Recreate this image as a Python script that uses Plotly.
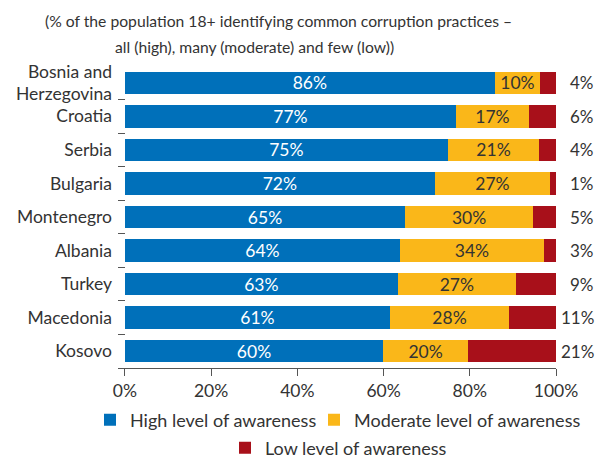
import plotly.graph_objects as go

countries = ["Bosnia and<br>Herzegovina", "Croatia", "Serbia", "Bulgaria", "Montenegro",
             "Albania", "Turkey", "Macedonia", "Kosovo"]
# bar lengths (unrounded shares, %)
high = [85.8, 76.8, 74.9, 71.9, 65.0, 63.8, 63.3, 61.5, 59.9]
moderate = [10.5, 16.9, 21.2, 26.7, 29.7, 33.4, 27.4, 27.6, 19.7]
low = [3.7, 6.3, 3.9, 1.4, 5.3, 2.8, 9.3, 10.9, 20.4]
# value labels as printed on the chart
high_labels = ["86%", "77%", "75%", "72%", "65%", "64%", "63%", "61%", "60%"]
moderate_labels = ["10%", "17%", "21%", "27%", "30%", "34%", "27%", "28%", "20%"]
low_labels = ["4%", "6%", "4%", "1%", "5%", "3%", "9%", "11%", "21%"]
tick_vals = [0, 20, 40, 60, 80, 100]
tick_text = ["0%", "20%", "40%", "60%", "80%", "100%"]
title_lines = ["(% of the population 18+ identifying common corruption practices –",
               "all (high), many (moderate) and few (low))"]

FONT = "Lato"
TXT = "#333333"
BLUE = "#0070BA"
YEL = "#FAB719"
RED = "#A8101A"

W, H = 604, 459
OFF = 8  # page offset of the figure inside the browser window
# target plot area in window pixels: x 118..556, y 66..368
L, T = 118 - OFF, 66 - OFF
R, B = W - (556 - OFF), H - (368 - OFF)
PW, PH = W - L - R, H - T - B


def px_x(p):  # window pixel -> paper x
    return (p - OFF - L) / PW


def px_y(p):  # window pixel -> paper y
    return (H - B - (p - OFF)) / PH


def cx(p):  # window pixel -> container x
    return (p - OFF) / W


def cy(p):  # window pixel -> container y
    return 1 - (p - OFF) / H


fig = go.Figure()
fig.add_trace(go.Bar(y=countries, x=high, orientation="h", name="High level of awareness",
                     marker=dict(color=BLUE, line=dict(width=0)),
                     text=high_labels, textposition="inside",
                     insidetextanchor="middle", constraintext="none",
                     textfont=dict(color="white", size=17.5, family=FONT), legend="legend"))
fig.add_trace(go.Bar(y=countries, x=moderate, orientation="h", name="Moderate level of awareness",
                     marker=dict(color=YEL, line=dict(width=0)),
                     text=moderate_labels, textposition="inside",
                     insidetextanchor="middle", constraintext="none",
                     textfont=dict(color=TXT, size=17.5, family=FONT), legend="legend2"))
fig.add_trace(go.Bar(y=countries, x=low, orientation="h", name="Low level of awareness",
                     marker=dict(color=RED, line=dict(width=0)),
                     textposition="none", legend="legend3"))

annotations = []
for c, t in zip(countries, low_labels):
    annotations.append(dict(x=px_x(596), xref="paper", y=c, yref="y", text=t,
                            showarrow=False, xanchor="right",
                            font=dict(size=17, color=TXT, family=FONT)))
annotations.append(dict(x=px_x(278), xref="paper", y=px_y(21), yref="paper",
                        text=title_lines[0], showarrow=False, xanchor="center", yanchor="middle",
                        font=dict(size=15.7, color=TXT, family=FONT)))
annotations.append(dict(x=px_x(254), xref="paper", y=px_y(47), yref="paper",
                        text=title_lines[1], showarrow=False, xanchor="center", yanchor="middle",
                        font=dict(size=15.7, color=TXT, family=FONT)))

leg_common = dict(orientation="h", xanchor="left", xref="container",
                  yanchor="middle", yref="container",
                  font=dict(size=18, color=TXT, family=FONT),
                  traceorder="normal", itemclick=False, itemdoubleclick=False,
                  bgcolor="rgba(0,0,0,0)", borderwidth=0)

fig.update_layout(
    width=W, height=H,
    barmode="stack", bargap=0.33,
    paper_bgcolor="white", plot_bgcolor="white",
    margin=dict(l=L, r=R, t=T, b=B, autoexpand=False),
    font=dict(family=FONT, size=15, color=TXT),
    showlegend=True,
    legend=dict(x=cx(90), y=cy(420), **leg_common),
    legend2=dict(x=cx(314), y=cy(420), **leg_common),
    legend3=dict(x=cx(225), y=cy(448), **leg_common),
    annotations=annotations,
)
fig.update_xaxes(range=[-1.6, 100], tickvals=tick_vals, ticktext=tick_text,
                 showgrid=False, zeroline=False, showline=True, linecolor="#555555",
                 linewidth=1, ticks="outside", ticklen=7, tickcolor="#555555",
                 tickfont=dict(size=17.5, color=TXT, family=FONT), fixedrange=True,
                 automargin=False)
fig.update_yaxes(autorange="reversed", showgrid=False, zeroline=False, showline=False,
                 ticks="inside", tickson="boundaries", ticklen=7, tickcolor="#555555",
                 tickfont=dict(size=17.5, color=TXT, family=FONT), ticklabelstandoff=5,
                 fixedrange=True, automargin=False)

fig.write_html("out.html")
